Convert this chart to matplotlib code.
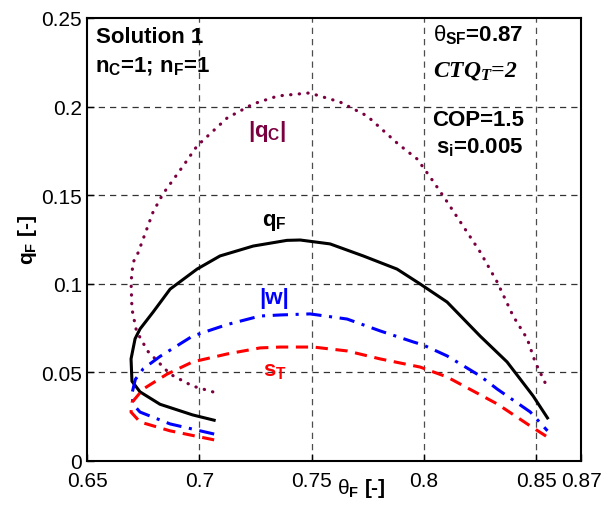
import matplotlib.pyplot as plt

plt.rcParams['font.family'] = ['Liberation Sans', 'DejaVu Sans']
plt.rcParams['mathtext.fontset'] = 'custom'
plt.rcParams['mathtext.rm'] = 'Liberation Sans'
plt.rcParams['mathtext.bf'] = 'Liberation Sans:bold'
plt.rcParams['mathtext.it'] = 'Liberation Serif:italic:bold'

# curves
qf_x = [0.7066, 0.697, 0.6825, 0.6736, 0.670, 0.6696, 0.6714, 0.6736, 0.6794, 0.687, 0.699, 0.7092,
        0.724, 0.739, 0.7449, 0.7582, 0.773, 0.788, 0.7983, 0.8103, 0.825, 0.837, 0.8486, 0.855]
qf_y = [0.023, 0.026, 0.032, 0.039, 0.045, 0.0576, 0.069, 0.0745, 0.084, 0.097, 0.1083, 0.1157,
        0.1213, 0.1245, 0.1247, 0.1225, 0.1157, 0.1083, 0.0999, 0.0897, 0.0705, 0.0559, 0.0367, 0.0243]

w_x = [0.7066, 0.687, 0.6736, 0.6705, 0.670, 0.6715, 0.675, 0.6825, 0.697, 0.7124, 0.727, 0.736, 0.7493,
       0.7658, 0.7805, 0.7952, 0.7996, 0.8103, 0.825, 0.8326, 0.8473, 0.855]
w_y = [0.0152, 0.0209, 0.0276, 0.032, 0.038, 0.046, 0.052, 0.059, 0.0705, 0.077, 0.0818, 0.0824, 0.083,
       0.0801, 0.0734, 0.0672, 0.0655, 0.0593, 0.048, 0.0406, 0.0277, 0.017]

st_x = [0.7066, 0.687, 0.6736, 0.6696, 0.670, 0.675, 0.6856, 0.697, 0.7124, 0.727, 0.736, 0.7507,
        0.7658, 0.7805, 0.7983, 0.8103, 0.8175, 0.8326, 0.8473, 0.855]
st_y = [0.0119, 0.017, 0.022, 0.0276, 0.033, 0.0406, 0.049, 0.0559, 0.0604, 0.0638, 0.0643, 0.0643,
        0.0621, 0.0576, 0.053, 0.0474, 0.0425, 0.0322, 0.0198, 0.0135]

qc_x = [0.706, 0.697, 0.687, 0.677, 0.672, 0.670, 0.6696, 0.6705, 0.6727, 0.6794, 0.6838,
        0.6928, 0.699, 0.7124, 0.724, 0.735, 0.749, 0.7626, 0.7747, 0.7885, 0.797, 0.804,
        0.8094, 0.825, 0.8326, 0.8397, 0.846, 0.8495, 0.854]
qc_y = [0.039, 0.0423, 0.049, 0.062, 0.0734, 0.0858, 0.101, 0.112, 0.1174, 0.1405, 0.1507,
        0.1665, 0.1778, 0.1936, 0.2015, 0.206, 0.2077, 0.2026, 0.1947, 0.1789, 0.1704, 0.158,
        0.148, 0.118, 0.101, 0.0818, 0.0689, 0.0559, 0.044]

xticks = [0.65, 0.7, 0.75, 0.8, 0.85, 0.87]
xtick_labels = ['0.65', '0.7', '0.75', '0.8', '0.85', '0.87']
yticks = [0, 0.05, 0.1, 0.15, 0.2, 0.25]
ytick_labels = ['0', '0.05', '0.1', '0.15', '0.2', '0.25']

fig = plt.figure(figsize=(6.15, 5.06), dpi=100)
ax = fig.add_axes([0.1415, 0.087, 0.8035, 0.8755])

# grid (dashed, like matlab)
for gx in [0.7, 0.75, 0.8, 0.85]:
    ax.axvline(gx, color='0.3', ls=(0, (5, 4)), lw=0.9, zorder=0)
for gy in [0.05, 0.1, 0.15, 0.2]:
    ax.axhline(gy, color='0.2', ls=(0, (5, 4)), lw=0.9, zorder=0)

ax.plot(qc_x, qc_y, color='#7a0040', lw=2.3, ls=(0, (0.1, 2.6)), dash_capstyle='round')
ax.plot(qf_x, qf_y, color='black', lw=2.2)
ax.plot(w_x, w_y, color='#0000ff', lw=2.2, ls=(0, (5, 2.5, 1, 2.5)))
ax.plot(st_x, st_y, color='#ff0000', lw=2.2, ls=(0, (4, 2.5)))

ax.set_xlim(0.65, 0.87)
ax.set_ylim(0, 0.25)
ax.set_xticks(xticks)
ax.set_xticklabels(xtick_labels)
ax.set_yticks(yticks)
ax.set_yticklabels(ytick_labels)
ax.tick_params(direction='in', labelsize=15, length=5, width=1)
ax.tick_params(axis='x', pad=7)
for s in ax.spines.values():
    s.set_linewidth(1.5)

ax.set_ylabel(r'q$_{\mathbf{F}}$ [-]', fontsize=15, fontweight='bold', labelpad=2)
fig.text(0.587, 0.034, r'$\mathrm{θ}$$_{\mathbf{F}}$ [-]', fontsize=15, fontweight='bold',
         ha='center', va='center')

# annotations
fs = 16
ax.text(0.654, 0.2393, 'Solution 1', fontsize=fs, fontweight='bold', va='center')
ax.text(0.6535, 0.2235, r'n$_{\mathbf{C}}$=1; n$_{\mathbf{F}}$=1', fontsize=fs,
        fontweight='bold', va='center')
ax.text(0.804, 0.2415, r'$\mathrm{θ}$$_{\mathbf{SF}}$=0.87', fontsize=fs, fontweight='bold',
        va='center')
ax.text(0.804, 0.2205, r'$CTQ_T$=2', fontsize=17, fontstyle='italic', fontweight='bold',
        va='center', family='Liberation Serif')
ax.text(0.8035, 0.1925, 'COP=1.5', fontsize=fs, fontweight='bold', va='center')
ax.text(0.8055, 0.178, r's$_{\mathbf{i}}$=0.005', fontsize=fs, fontweight='bold', va='center')

ax.text(0.7215, 0.1865, r'|q$_{\mathbf{C}}$|', fontsize=fs, fontweight='bold', color='#7a0040',
        va='center')
ax.text(0.728, 0.135, r'q$_{\mathbf{F}}$', fontsize=fs, fontweight='bold', color='black',
        va='center')
ax.text(0.7265, 0.0925, '|w|', fontsize=fs, fontweight='bold', color='#0000ff', va='center')
ax.text(0.7285, 0.0515, r's$_{\mathbf{T}}$', fontsize=fs, fontweight='bold', color='#ff0000',
        va='center')

fig.savefig('out.png', dpi=100)
